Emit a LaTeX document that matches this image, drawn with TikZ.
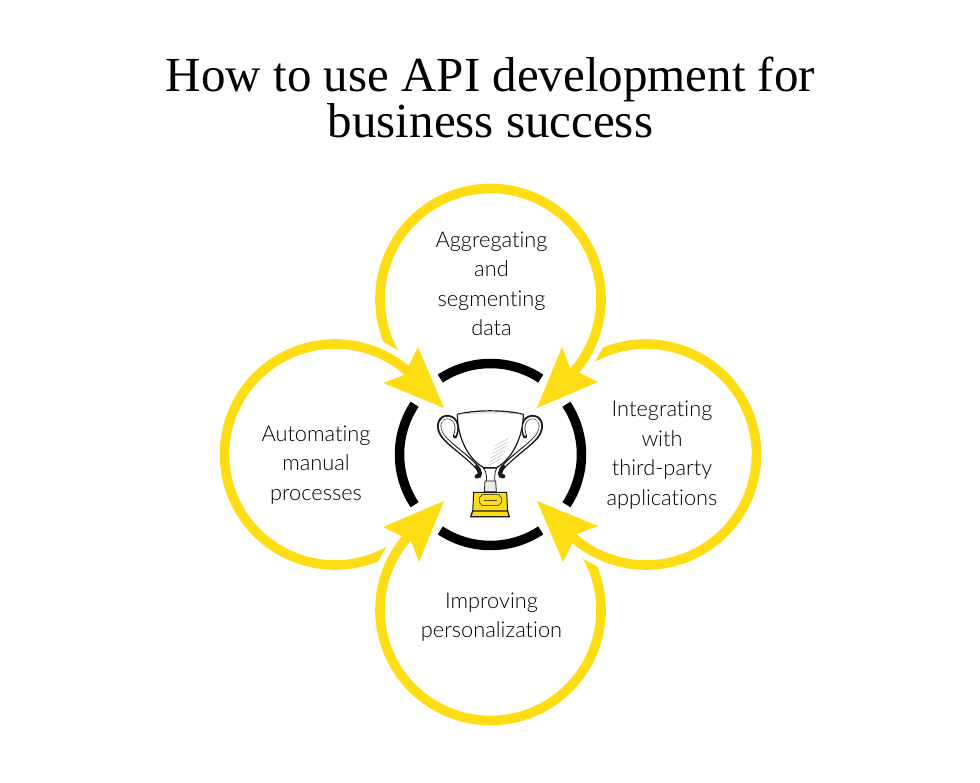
\documentclass[tikz,border=0pt]{standalone}
\usepackage{fontspec}
\usepackage{xcolor}
\usetikzlibrary{calc}
\setmainfont{Liberation Serif}
\newfontfamily\labelfont[Ligatures=NoCommon]{Lato Light}
\definecolor{trophyyellow}{HTML}{FFDD15}

\begin{document}
\begin{tikzpicture}[x=1pt,y=1pt]
\tikzstyle{title} = [align=center, font=\fontsize{49}{46}\selectfont, inner sep=0pt]
\tikzstyle{goal} = [align=center, font=\labelfont\fontsize{21.8}{29.5}\selectfont, text=black, inner sep=0pt]
\tikzstyle{ring} = [fill=trophyyellow]
\tikzstyle{gap_arc} = [draw=black, line width=9.5pt]
\tikzstyle{cup} = [draw=black!90, line width=1.2pt, fill=white]
\tikzstyle{handle_out} = [draw=black!90, line width=4.2pt, line cap=round]
\tikzstyle{handle_in} = [draw=white, line width=1.7pt, line cap=round]
\useasboundingbox (0,0) rectangle (980,782);

% title
\node [title] (heading) at (490.5,685) {How to use API development for\\business success};

% yellow loops
\foreach \turn in {0,-90,-180,-270} {
\begin{scope}[rotate around={\turn:(490.5,327.5)}]
\coordinate (loop) at (490.5,483);
\fill [ring] ($(loop)+(202:115.3)$) arc [start angle=202, end angle=-43, radius=115.3]
  -- ($(loop)+(-43:105.7)$) arc [start angle=-43, end angle=209, radius=105.7] -- cycle;
\coordinate (tip) at (537,374);
\fill [ring] (tip) -- (562,435) -- (570,414) -- (598,400) -- cycle;
\end{scope}
}

% black ring
\coordinate (hub) at (490.5,327.5);
\foreach \mid in {0,90,180,270}
\draw [gap_arc] ($(hub)+(\mid-33.5:91)$) arc [start angle=\mid-33.5, end angle=\mid+33.5, radius=91];

% labels
\node [goal] (aggregating) at (491.5,498) {Aggregating\\and\\segmenting\\data};
\node [goal] (integrating) at (662,327) {Integrating\\with\\third-party\\applications};
\node [goal] (improving) at (491.5,165) {Improving\\personalization};
\node [goal] (automating) at (316,317) {Automating\\manual\\processes};

% trophy, in the units of a 3x crop
\begin{scope}[shift={(425,377)}, x=0.3333pt, y=-0.3333pt]
\foreach \side/\mir in {l/1,r/-1} {
\begin{scope}[xscale=\mir, xshift={(\mir==1 ? 0 : -390)*0.3333pt}]
\path [handle_out] (90,94) .. controls (100,70) and (97,40) .. (70,36)
  .. controls (45,34) and (35,60) .. (48,85)
  .. controls (60,110) and (110,140) .. (150,180)
  .. controls (170,200) and (168,215) .. (155,214);
\path [handle_in] (90,90) .. controls (98,70) and (95,42) .. (70,38)
  .. controls (47,36) and (37,60) .. (50,85)
  .. controls (62,110) and (110,140) .. (150,180);
\end{scope}
}
\path [cup] (97,28) .. controls (150,14) and (240,14) .. (295,28)
  .. controls (295,90) and (265,160) .. (215,188) -- (176,188)
  .. controls (125,160) and (97,90) .. (97,28) -- cycle;
\draw [black!35, line width=.4pt] (97,28) .. controls (150,22) and (240,22) .. (295,28);
\foreach \y in {100,112,124,136,148,160}
\draw [black!30, line width=.4pt] (286-\y*.35,\y) -- (246-\y*.35,\y+22);
\path [cup, line width=.8pt] (176,190) -- (215,190) .. controls (208,200) and (208,225) .. (211,248)
  -- (182,248) .. controls (186,225) and (186,200) .. (176,190) -- cycle;
\path [cup, line width=.8pt, fill=black!8] (180,228) -- (212,228) -- (214,260) -- (178,260) -- cycle;
\path [cup, fill=trophyyellow, line width=1pt] (146,262) -- (245,262) -- (248,322) -- (143,322) -- cycle;
\path [cup, fill=trophyyellow, line width=1.2pt] (143,318) -- (248,318) -- (253,335) -- (137,335) -- cycle;
\path [cup, fill=trophyyellow, line width=.6pt] (172,269) -- (220,269) -- (229,278) -- (229,293)
  -- (220,302) -- (172,302) -- (163,293) -- (163,278) -- cycle;
\draw [black!70, line width=.4pt] (176,285) -- (216,285);
\end{scope}
\end{tikzpicture}
\end{document}
